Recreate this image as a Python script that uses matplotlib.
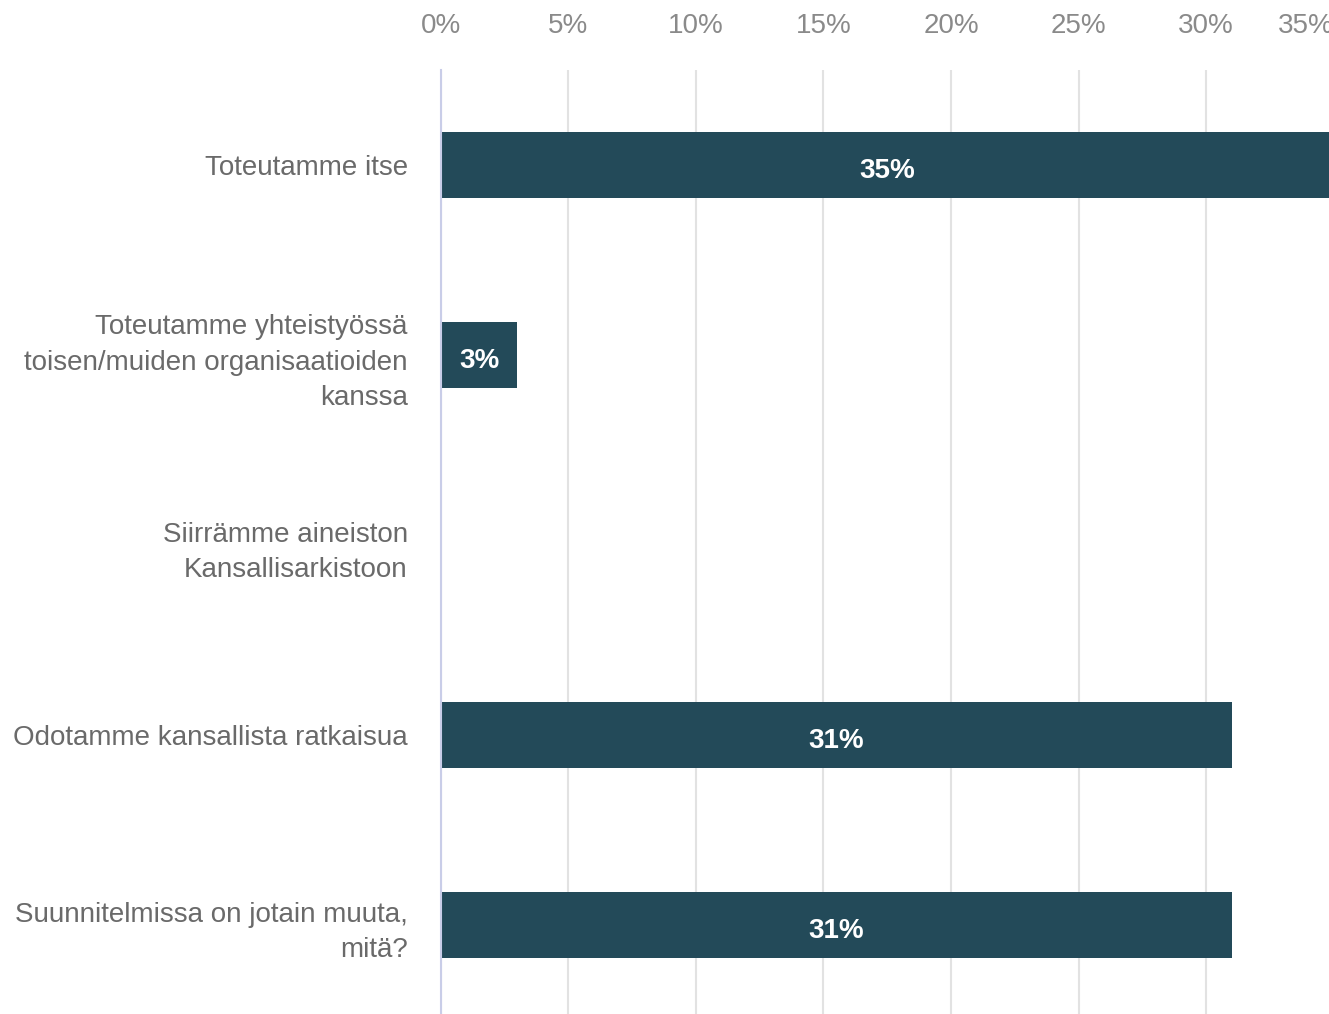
import matplotlib.pyplot as plt

plt.rcParams["font.family"] = ["Liberation Sans", "DejaVu Sans"]

categories = [
    "Toteutamme itse",
    "Toteutamme yhteistyössä\ntoisen/muiden organisaatioiden\nkanssa",
    "Siirrämme aineiston\nKansallisarkistoon",
    "Odotamme kansallista ratkaisua",
    "Suunnitelmissa on jotain muuta,\nmitä?",
]
values = [35, 3, 0, 31, 31]
bar_labels = ["35%", "3%", "", "31%", "31%"]
ticks = [0, 5, 10, 15, 20, 25, 30, 35]

BAR_COLOR = "#234a59"

fig = plt.figure(figsize=(13.29, 10.14), dpi=100)
ax = fig.add_axes([0.3318, -0.006, 0.6716, 0.937])

y = list(range(len(categories)))
ax.barh(y, values, height=0.35, color=BAR_COLOR, zorder=3)

for yi, v, lab in zip(y, values, bar_labels):
    if lab:
        ax.text(v / 2, yi + 0.03, lab, ha="center", va="center",
                color="white", fontsize=20, fontweight="bold", zorder=4)

ax.set_xlim(0, 35)
ax.set_ylim(4.5, -0.5)
ax.set_yticks(y)
ax.set_yticklabels(categories, fontsize=20, color="#6a6a6a", linespacing=1.47)
ax.set_xticks(ticks)
ax.set_xticklabels([f"{t}%" for t in ticks], fontsize=20, color="#8a8a8a")
ax.xaxis.tick_top()
ax.tick_params(axis="x", length=0, pad=22)
ax.tick_params(axis="y", length=0, pad=24)
# last tick label sits at the right edge, partly cut as in the source
ax.get_xticklabels()[-1].set_horizontalalignment("right")

ax.grid(axis="x", color="#e2e2e2", linewidth=1.5, zorder=0)
for s in ["top", "right", "bottom"]:
    ax.spines[s].set_visible(False)
ax.spines["left"].set_color("#c9cde8")
ax.spines["left"].set_linewidth(1.5)
ax.spines["left"].set_zorder(5)

fig.savefig("out.png", dpi=100)
